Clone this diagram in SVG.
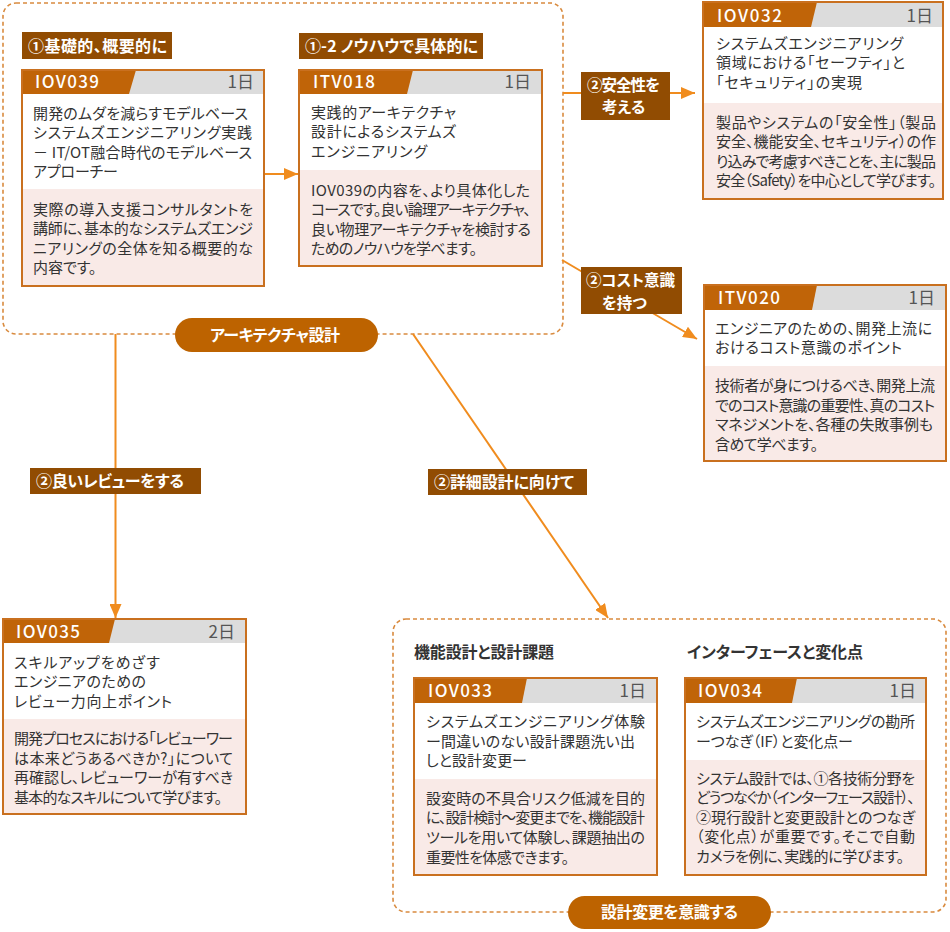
<svg xmlns="http://www.w3.org/2000/svg" width="950" height="932" viewBox="0 0 950 932">
<defs>
<style>
.t{font-family:"Noto Sans CJK JP","Noto Sans",sans-serif;font-size:15px;fill:#333;font-feature-settings:"palt";}
.hd{font-family:"Noto Sans CJK JP","Noto Sans",sans-serif;font-size:17px;fill:#fff;font-weight:500;}
.day{font-family:"Noto Sans CJK JP","Noto Sans",sans-serif;font-size:17px;fill:#555;text-anchor:end;}
.lb{font-family:"Noto Sans CJK JP","Noto Sans",sans-serif;font-size:16px;fill:#fff;font-weight:700;font-feature-settings:"palt";}
.lb2{font-family:"Noto Sans CJK JP","Noto Sans",sans-serif;font-size:15.5px;fill:#fff;font-weight:700;font-feature-settings:"palt";}
.h2{font-family:"Noto Sans CJK JP","Noto Sans",sans-serif;font-size:16px;fill:#333;font-weight:700;font-feature-settings:"palt";}
.box{fill:#fff;}
.pink{fill:#f9eae7;}
.grey{fill:#dcdcdc;}
.org{fill:#c06408;}
.bd{fill:none;stroke:#c9701f;stroke-width:2;}
.lab{fill:#914c02;}
.pill{fill:#bd6300;}
.dash{fill:none;stroke:#d98b3f;stroke-width:1.6;stroke-dasharray:4 3;}
.ln{fill:none;stroke:#f08c1e;stroke-width:2;}
</style>
<marker id="ah" markerUnits="userSpaceOnUse" markerWidth="14" markerHeight="12" refX="14" refY="6" orient="auto">
<path d="M0,0 L14,6 L0,12 z" fill="#f08c1e"/>
</marker>
</defs>

<g id="groups">
<rect class="dash" x="3" y="3" width="560" height="331" rx="13"/>
<rect class="dash" x="393" y="619" width="553" height="293" rx="13"/>
</g>

<g id="connectors">
<line class="ln" x1="264" y1="174" x2="298" y2="174" marker-end="url(#ah)"/>
<line class="ln" x1="563" y1="93" x2="695" y2="93" marker-end="url(#ah)"/>
<line class="ln" x1="562" y1="260" x2="697" y2="339" marker-end="url(#ah)"/>
<line class="ln" x1="115.5" y1="334" x2="115.5" y2="618" marker-end="url(#ah)"/>
<line class="ln" x1="413" y1="334" x2="608" y2="618" marker-end="url(#ah)"/>
</g>

<g id="edge-labels">
<rect class="lab" x="581" y="72" width="89" height="48"/>
<text class="lb2" x="587" y="90.5" textLength="73">②安全性を</text>
<text class="lb2" x="602" y="113">考える</text>
<rect class="lab" x="581" y="267" width="101" height="47"/>
<text class="lb2" x="586" y="286" textLength="89">②コスト意識</text>
<text class="lb2" x="602" y="308.5">を持つ</text>
<rect class="lab" x="30" y="468" width="171" height="26"/>
<text class="lb" x="36" y="487" textLength="148">②良いレビューをする</text>
<rect class="lab" x="428" y="469" width="159" height="26"/>
<text class="lb" x="434" y="488" textLength="140">②詳細設計に向けて</text>
</g>

<g id="group-labels">
<rect class="pill" x="175" y="318" width="203" height="34" rx="17"/>
<text class="lb" x="210" y="340.5" textLength="130">アーキテクチャ設計</text>
<rect class="pill" x="568" y="896" width="203" height="33" rx="16.5"/>
<text class="lb" x="601" y="918" textLength="137">設計変更を意識する</text>
<rect class="lab" x="22" y="32" width="150" height="27"/>
<text class="lb" x="28" y="51.5" textLength="139">①基礎的、概要的に</text>
<rect class="lab" x="299" y="33" width="184" height="26"/>
<text class="lb" x="305" y="52" textLength="173">①-2 ノウハウで具体的に</text>
<text class="h2" x="414" y="658" textLength="140">機能設計と設計課題</text>
<text class="h2" x="687" y="658" textLength="176">インターフェースと変化点</text>
</g>

<g id="IOV039">
<rect class="box" x="22" y="70" width="242" height="216"/>
<rect class="pink" x="22" y="189" width="242" height="97"/>
<rect class="grey" x="22" y="70" width="242" height="24"/>
<polygon class="org" points="22,70 136,70 129,94 22,94"/>
<rect class="bd" x="22" y="70" width="242" height="216"/>
<text class="hd" x="35" y="88" textLength="64">IOV039</text>
<text class="day" x="254" y="88">1日</text>
<text class="t" x="33" y="118.5" textLength="215">開発のムダを減らすモデルベース</text>
<text class="t" x="33" y="138" textLength="219">システムズエンジニアリング実践</text>
<text class="t" x="33" y="157.5" textLength="219">－ IT/OT融合時代のモデルベース</text>
<text class="t" x="33" y="177" textLength="85">アプローチー</text>
<text class="t" x="33" y="214.5" textLength="220">実際の導入支援コンサルタントを</text>
<text class="t" x="33" y="234" textLength="220">講師に、基本的なシステムズエンジ</text>
<text class="t" x="33" y="253.5" textLength="220">ニアリングの全体を知る概要的な</text>
<text class="t" x="33" y="273">内容です。</text>
</g>

<g id="ITV018">
<rect class="box" x="299" y="70" width="243" height="196"/>
<rect class="pink" x="299" y="170" width="243" height="96"/>
<rect class="grey" x="299" y="70" width="243" height="24"/>
<polygon class="org" points="299,70 413,70 407,94 299,94"/>
<rect class="bd" x="299" y="70" width="243" height="196"/>
<text class="hd" x="313" y="88" textLength="62">ITV018</text>
<text class="day" x="531" y="88">1日</text>
<text class="t" x="311" y="117.5" textLength="145">実践的アーキテクチャ</text>
<text class="t" x="311" y="137" textLength="145">設計によるシステムズ</text>
<text class="t" x="311" y="156.5" textLength="116">エンジニアリング</text>
<text class="t" x="311" y="195.5" textLength="219">IOV039の内容を、より具体化した</text>
<text class="t" x="311" y="215" textLength="220">コースです。良い論理アーキテクチャ、</text>
<text class="t" x="311" y="234.5" textLength="220">良い物理アーキテクチャを検討する</text>
<text class="t" x="311" y="254" textLength="166">ためのノウハウを学べます。</text>
</g>

<g id="IOV032">
<rect class="box" x="703" y="2" width="240" height="197"/>
<rect class="pink" x="703" y="103" width="240" height="96"/>
<rect class="grey" x="703" y="2" width="240" height="25"/>
<polygon class="org" points="703,2 817,2 811,27 703,27"/>
<rect class="bd" x="703" y="2" width="240" height="197"/>
<text class="hd" x="717" y="21.5" textLength="65">IOV032</text>
<text class="day" x="933" y="21.5">1日</text>
<text class="t" x="716" y="48.5" textLength="187">システムズエンジニアリング</text>
<text class="t" x="716" y="68" textLength="189">領域における「セーフティ」と</text>
<text class="t" x="716" y="87.5" textLength="146">「セキュリティ」の実現</text>
<text class="t" x="716" y="127.5" textLength="220">製品やシステムの「安全性」（製品</text>
<text class="t" x="716" y="147" textLength="220">安全、機能安全、セキュリティ）の作</text>
<text class="t" x="716" y="166.5" textLength="220">り込みで考慮すべきことを、主に製品</text>
<text class="t" x="716" y="186" textLength="220">安全（Safety）を中心として学びます。</text>
</g>

<g id="ITV020">
<rect class="box" x="704" y="285" width="242" height="176"/>
<rect class="pink" x="704" y="366" width="242" height="95"/>
<rect class="grey" x="704" y="285" width="242" height="25"/>
<polygon class="org" points="704,285 817,285 812,310 704,310"/>
<rect class="bd" x="704" y="285" width="242" height="176"/>
<text class="hd" x="718" y="304" textLength="62">ITV020</text>
<text class="day" x="935" y="304">1日</text>
<text class="t" x="715" y="333.5" textLength="217">エンジニアのための、開発上流に</text>
<text class="t" x="715" y="353" textLength="187">おけるコスト意識のポイント</text>
<text class="t" x="715" y="391" textLength="220">技術者が身につけるべき、開発上流</text>
<text class="t" x="715" y="410.5" textLength="220">でのコスト意識の重要性、真のコスト</text>
<text class="t" x="715" y="430" textLength="218">マネジメントを、各種の失敗事例も</text>
<text class="t" x="715" y="449.5" textLength="103">含めて学べます。</text>
</g>

<g id="IOV035">
<rect class="box" x="3" y="619" width="243" height="195"/>
<rect class="pink" x="3" y="719" width="243" height="95"/>
<rect class="grey" x="3" y="619" width="243" height="24"/>
<polygon class="org" points="3,619 115,619 109,643 3,643"/>
<rect class="bd" x="3" y="619" width="243" height="195"/>
<text class="hd" x="16" y="637.5" textLength="64">IOV035</text>
<text class="day" x="235" y="637.5">2日</text>
<text class="t" x="14" y="667.5" textLength="146">スキルアップをめざす</text>
<text class="t" x="14" y="687" textLength="132">エンジニアのための</text>
<text class="t" x="14" y="706.5" textLength="158">レビュー力向上ポイント</text>
<text class="t" x="14" y="743.5" textLength="219">開発プロセスにおける「レビューワー</text>
<text class="t" x="14" y="763.5" textLength="219">は本来どうあるべきか?」について</text>
<text class="t" x="14" y="783" textLength="219">再確認し、レビューワーが有すべき</text>
<text class="t" x="14" y="803" textLength="208">基本的なスキルについて学びます。</text>
</g>

<g id="IOV033">
<rect class="box" x="414" y="678" width="243" height="197"/>
<rect class="pink" x="414" y="779" width="243" height="96"/>
<rect class="grey" x="414" y="678" width="243" height="25"/>
<polygon class="org" points="414,678 527,678 522,703 414,703"/>
<rect class="bd" x="414" y="678" width="243" height="197"/>
<text class="hd" x="428" y="697" textLength="64">IOV033</text>
<text class="day" x="646" y="697">1日</text>
<text class="t" x="426" y="726.5" textLength="219">システムズエンジニアリング体験</text>
<text class="t" x="426" y="746.5" textLength="209">ー間違いのない設計課題洗い出</text>
<text class="t" x="426" y="766" textLength="101">しと設計変更ー</text>
<text class="t" x="426" y="803.5" textLength="219">設変時の不具合リスク低減を目的</text>
<text class="t" x="426" y="823" textLength="219">に、設計検討～変更までを、機能設計</text>
<text class="t" x="426" y="842.5" textLength="219">ツールを用いて体験し、課題抽出の</text>
<text class="t" x="426" y="862.5" textLength="143">重要性を体感できます。</text>
</g>

<g id="IOV034">
<rect class="box" x="685" y="678" width="241" height="197"/>
<rect class="pink" x="685" y="760" width="241" height="115"/>
<rect class="grey" x="685" y="678" width="241" height="25"/>
<polygon class="org" points="685,678 797,678 792,703 685,703"/>
<rect class="bd" x="685" y="678" width="241" height="197"/>
<text class="hd" x="698" y="697" textLength="64">IOV034</text>
<text class="day" x="916" y="697">1日</text>
<text class="t" x="696" y="726.5" textLength="219">システムズエンジニアリングの勘所</text>
<text class="t" x="696" y="746.5" textLength="157">ーつなぎ（IF）と変化点ー</text>
<text class="t" x="696" y="783.5" textLength="219">システム設計では、①各技術分野を</text>
<text class="t" x="696" y="803" textLength="219">どうつなぐか（インターフェース設計）、</text>
<text class="t" x="696" y="822.5" textLength="219">②現行設計と変更設計とのつなぎ</text>
<text class="t" x="696" y="842" textLength="219">（変化点）が重要です。そこで自動</text>
<text class="t" x="696" y="862" textLength="208">カメラを例に、実践的に学びます。</text>
</g>
</svg>
